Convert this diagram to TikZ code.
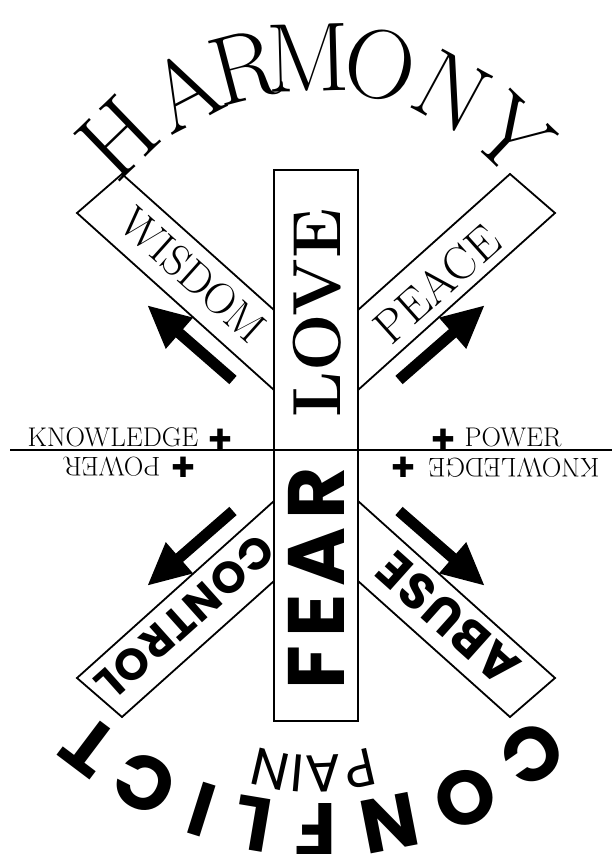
\documentclass[tikz,border=0pt]{standalone}
\usepackage{fontspec}
\newfontfamily\rndfont{Poppins}
\newfontfamily\crossfont{DejaVu Sans}
\usetikzlibrary{arrows.meta}
\begin{document}
\begin{tikzpicture}[x=1pt,y=-1pt,
  frame/.style={draw=black,line width=1.8pt,line join=miter},
  fatarrow/.style={line width=11pt,-{Triangle[width=38pt,length=43pt]}},
  serifword/.style={inner sep=0pt,font=\fontsize{#1}{#1}\selectfont},
  boldserif/.style={inner sep=0pt,font=\fontsize{#1}{#1}\selectfont\bfseries},
  roundword/.style={inner sep=0pt,font=\rndfont\bfseries\fontsize{#1}{#1}\selectfont\addfontfeature{LetterSpace=4}},
  wideround/.style={inner sep=0pt,font=\rndfont\bfseries\fontsize{#1}{#1}\selectfont\addfontfeature{LetterSpace=10}},
  harm/.style={inner sep=0pt,font=\fontsize{98}{98}\selectfont},
  confl/.style={inner sep=0pt,font=\rndfont\bfseries\fontsize{76}{76}\selectfont},
  painletter/.style={inner sep=0pt,font=\rndfont\fontsize{53}{53}\selectfont},
  plus/.style={inner sep=0pt,font=\crossfont\fontsize{28}{28}\selectfont}]
\useasboundingbox (0,0) rectangle (612,854);
\clip (0,0) rectangle (612,854);
\fill[white] (0,0) rectangle (612,854);

% diagonal boxes
\draw[frame] (122,174) -- (77,213) -- (274,390) -- (274,310) -- cycle;
\draw[frame] (510,174) -- (555,213) -- (358,390) -- (358,310) -- cycle;
\draw[frame] (77,678) -- (122,717) -- (274,581) -- (274,501) -- cycle;
\draw[frame] (555,678) -- (510,717) -- (358,581) -- (358,501) -- cycle;

% central box and horizontal line
\draw[frame] (274,170) rectangle (358,721);
\coordinate (ll) at (10,450);
\coordinate (lr) at (612,450);
\draw[line width=1.5pt] (ll) -- (lr);

% arrows
\coordinate (wt) at (233,380); \coordinate (wh) at (147,305);
\coordinate (pt) at (399,380); \coordinate (ph) at (485,305);
\coordinate (ct) at (233,511); \coordinate (ch) at (147,586);
\coordinate (at) at (399,511); \coordinate (ah) at (485,586);
\draw[fatarrow] (wt) -- (wh);
\draw[fatarrow] (pt) -- (ph);
\draw[fatarrow] (ct) -- (ch);
\draw[fatarrow] (at) -- (ah);

% box words
\node[serifword=44,rotate=-41.8] (wisdom) at (193,275) {WISDOM};
\node[serifword=47,rotate=41.8] (peace) at (437,284) {PEACE};
\node[roundword=44,rotate=221.8] (control) at (185,617) {CONTROL};
\node[roundword=50,rotate=138.2] (abuse) at (448,619) {ABUSE};
\node[boldserif=68,rotate=90] (love) at (317,313) {LOVE};
\node[wideround=80,rotate=90] (fear) at (316,578) {FEAR};

% knowledge / power
\node[serifword=27] (kn1) at (113,437) {KNOWLEDGE};
\node[plus] (p1) at (220,439) {✚};
\node[plus] (p2) at (443,439) {✚};
\node[serifword=27] (pw1) at (513,437) {POWER};
\node[serifword=27,rotate=180] (pw2) at (112,467) {POWER};
\node[plus] (p4) at (183,467) {✚};
\node[plus] (p3) at (403,467) {✚};
\node[serifword=27,rotate=180] (kn2) at (514,468) {KNOWLEDGE};

% HARMONY
\foreach \ch/\ang [count=\i, evaluate=\ang as \rot using \ang-90] in
  {H/134, A/117.5, R/104.6, M/91.5, O/77, N/61.5, Y/46.6}
  \node[harm,rotate=\rot] (harm\i) at ({316+285*cos(\ang)},{343-285*sin(\ang)}) {\ch};

% CONFLICT
\foreach \ch/\ang/\rad [count=\i, evaluate=\ang as \rot using \ang-90] in
  {C/-55/376, O/-67/382, N/-79/384, F/-90/384, L/-99.5/383, I/-107.5/381, C/-117/378, T/-127/376}
  \node[confl,rotate=\rot] (conf\i) at ({316+\rad*cos(\ang)},{446-\rad*sin(\ang)}) {\ch};

% PAIN
\foreach \ch/\ang [count=\i, evaluate=\ang as \rot using \ang-90] in
  {P/-77, A/-87.5, I/-95.2, N/-103}
  \node[painletter,rotate=\rot] (pain\i) at ({315+200*cos(\ang)},{574-200*sin(\ang)}) {\ch};
\end{tikzpicture}
\end{document}
